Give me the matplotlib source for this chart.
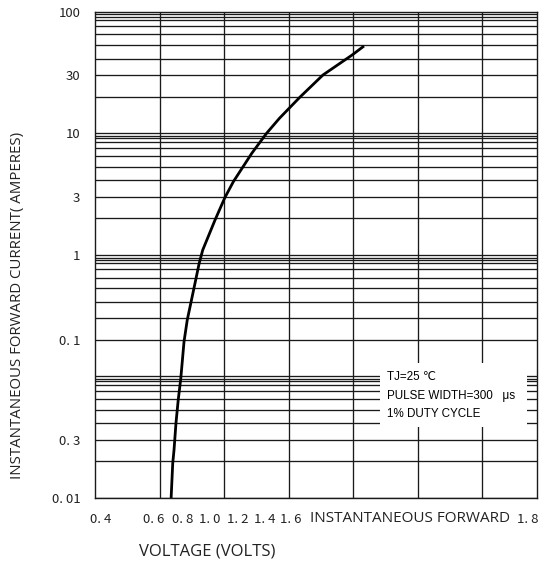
import matplotlib
matplotlib.use("Agg")
import matplotlib.pyplot as plt
from matplotlib.patches import Rectangle

# forward characteristic
voltage = [0.636, 0.641, 0.645, 0.651, 0.658, 0.666, 0.676, 0.686, 0.697, 0.710, 0.723,
           0.734, 0.772, 0.803, 0.829, 0.886, 0.932, 0.972, 1.036, 1.107, 1.197, 1.234]
current = [0.01, 0.0193, 0.0248, 0.0412, 0.064, 0.0965, 0.193, 0.291, 0.40, 0.583, 0.852,
           1.096, 1.93, 2.97, 4.0, 6.84, 10.0, 13.3, 19.9, 30.2, 44.0, 52.2]

# grid of the printed chart paper
v_grid = [0.6, 0.8, 1.0, 1.2, 1.4, 1.6]
decades = [0.01, 0.1, 1, 10]
mantissa = [1, 2, 3, 4.1, 5.3, 6.5, 7.6, 8.5, 9.1, 9.5]

# tick labels as printed (they sit off the grid in the original)
x_labels = ["0. 4", "0. 6", "0. 8", "1. 0", "1. 2", "1. 4", "1. 6", "1. 8"]
x_label_pos = [0.419, 0.583, 0.673, 0.757, 0.843, 0.927, 1.008, 1.743]
y_labels = ["100", "30", "10", "3", "1", "0. 1", "0. 3", "0. 01"]
y_label_pos = [100, 30, 10, 3, 1, 0.2, 0.03, 0.01]

notes = ["TJ=25 \u2103", "PULSE WIDTH=300   \u03bcs", "1% DUTY CYCLE"]
note_y = [0.0995, 0.0695, 0.0495]

fig = plt.figure(figsize=(5.53, 5.63), dpi=100)
ax = fig.add_axes([0.1718, 0.1155, 0.7993, 0.8637])
ax.set_yscale("log")
ax.set_xlim(0.4, 1.7705)
ax.set_ylim(0.01, 100)

gc = "#1a1a1a"
for v in v_grid:
    ax.axvline(v, color=gc, lw=0.95, zorder=1)
for d in decades:
    for m in mantissa:
        ax.axhline(d * m, color=gc, lw=0.95, zorder=1)

# blank patch behind the test conditions
ax.add_patch(Rectangle((1.284, 0.0384), 0.4555, 0.0906, facecolor="white",
                       edgecolor="none", zorder=3))
for t, y in zip(notes, note_y):
    ax.text(1.3054, y, t, fontsize=8.4, va="center", ha="left", zorder=4,
            family=["Liberation Sans", "DejaVu Sans"])

ax.plot(voltage, current, color="black", lw=2.0, zorder=5, solid_capstyle="butt")

for s in ax.spines.values():
    s.set_color(gc)
    s.set_linewidth(1.0)

ax.set_xticks(x_label_pos)
ax.set_xticklabels(x_labels)
ax.set_yticks(y_label_pos)
ax.set_yticklabels(y_labels)
ax.minorticks_off()
ax.tick_params(axis="both", length=0, labelsize=9.5)
ax.tick_params(axis="x", pad=11)
ax.tick_params(axis="y", pad=10.5)
for lab in ax.get_xticklabels() + ax.get_yticklabels():
    lab.set_family(["Noto Sans CJK JP", "DejaVu Sans"])
    lab.set_color("#222222")

fig.text(18 / 553, 1 - 305 / 563, "INSTANTANEOUS FORWARD CURRENT( AMPERES)",
         rotation=90, ha="center", va="center", fontsize=10.8, family="Open Sans",
         color="#222222")
fig.text(310 / 553, 1 - 519 / 563, "INSTANTANEOUS FORWARD", ha="left", va="center",
         fontsize=11, family="Open Sans", color="#222222")
fig.text(207 / 553, 1 - 552 / 563, "VOLTAGE (VOLTS)", ha="center", va="center",
         fontsize=12, family="Open Sans", color="#222222")

fig.savefig("out.png", dpi=100, facecolor="white")
